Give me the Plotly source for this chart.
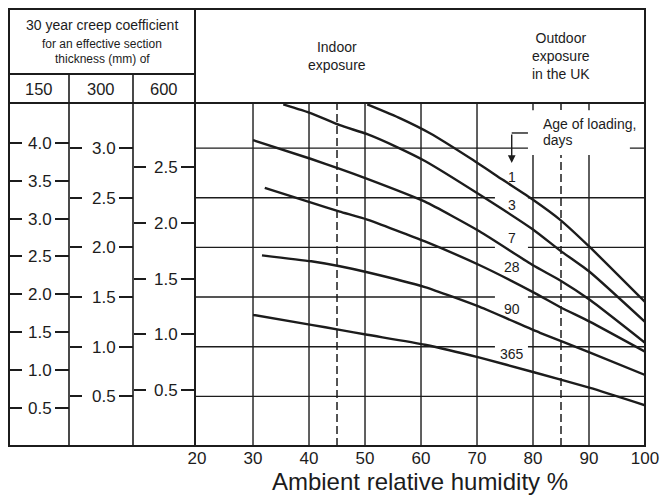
import plotly.graph_objects as go

# ---------------------------------------------------------------------------
# Data: 30-year creep coefficient (read on the 300 mm section scale)
# against ambient relative humidity, one curve per age at loading.
# ---------------------------------------------------------------------------
ages = ["1", "3", "7", "28", "90", "365"]

rh_1 = [50.4, 56.3, 61.6, 69.3, 74.6, 80.0, 84.8, 90.2, 100.0]
phi_1 = [3.44, 3.30, 3.15, 2.88, 2.68, 2.48, 2.28, 2.00, 1.45]

rh_3 = [35.4, 40.4, 45.5, 50.4, 55.7, 60.7, 70.5, 80.0, 84.8, 90.2, 100.0]
phi_3 = [3.44, 3.35, 3.23, 3.14, 3.01, 2.87, 2.53, 2.18, 1.97, 1.75, 1.25]

rh_7 = [30.0, 40.4, 45.5, 50.4, 60.7, 70.5, 80.0, 84.8, 90.2, 100.0]
phi_7 = [3.08, 2.89, 2.79, 2.69, 2.46, 2.16, 1.82, 1.67, 1.47, 1.04]

rh_28 = [32.1, 40.4, 45.5, 50.4, 60.7, 70.5, 80.0, 84.8, 90.2, 100.0]
phi_28 = [2.60, 2.45, 2.36, 2.28, 2.06, 1.82, 1.55, 1.40, 1.25, 0.95]

rh_90 = [31.6, 40.4, 45.5, 50.4, 60.7, 70.5, 81.25, 90.2, 100.0]
phi_90 = [1.92, 1.86, 1.81, 1.75, 1.60, 1.40, 1.14, 0.94, 0.715]

rh_365 = [30.0, 40.4, 45.5, 50.4, 60.7, 70.5, 80.0, 90.2, 100.0]
phi_365 = [1.32, 1.22, 1.17, 1.12, 1.02, 0.89, 0.745, 0.585, 0.41]

curves_rh = [rh_1, rh_3, rh_7, rh_28, rh_90, rh_365]
curves_phi = [phi_1, phi_3, phi_7, phi_28, phi_90, phi_365]

# Creep coefficient on each section scale relative to the 300 mm scale
sections = ["150", "300", "600"]
section_factor = [1.31, 1.00, 0.89]

ticks_150 = [0.5, 1.0, 1.5, 2.0, 2.5, 3.0, 3.5, 4.0]
ticks_300 = [0.5, 1.0, 1.5, 2.0, 2.5, 3.0]
ticks_600 = [0.5, 1.0, 1.5, 2.0, 2.5]
section_ticks = [ticks_150, ticks_300, ticks_600]

humidity_ticks = [20, 30, 40, 50, 60, 70, 80, 90, 100]
exposure_rh = [45, 85]          # indoor / outdoor (UK) reference humidities

# label placement for the age curves
LABEL_RH = 76.2
label_phi = [2.71, 2.43, 2.09, 1.80, 1.38, 0.93]

# ---------------------------------------------------------------------------
# Layout geometry
# ---------------------------------------------------------------------------
W, H = 660, 498
M_L, M_R, M_T, M_B = 9, 15, 9, 52
PW = W - M_L - M_R
PH = H - M_T - M_B

FONT = "Liberation Sans, Arial, Helvetica, sans-serif"
INK = "#1c1c1c"


def fx(px):
    return (px - M_L) / PW


def fy(py):
    return (H - M_B - py) / PH


X_RANGE = [19.64, 100]
Y_TOP = 3.454                       # top of the 300 mm scale
col_edges = [(9, 69), (69, 133), (133, 195)]
PLOT_LEFT = 195
PLOT_TOP = 103
HEAD_SPLIT = 74

fig = go.Figure()

# age curves
for age, rh, phi in zip(ages, curves_rh, curves_phi):
    fig.add_trace(go.Scatter(
        x=rh, y=phi, mode="lines", name=age,
        line=dict(color=INK, width=2.4, shape="spline", smoothing=0.5),
        showlegend=False, hoverinfo="skip"))

layout_axes = {}
axis_no = 2
for sec, factor, tv, (left, right) in zip(sections, section_factor,
                                         section_ticks, col_edges):
    rng = [0, Y_TOP * factor]
    lab_name = f"yaxis{axis_no}"
    tick_name = f"yaxis{axis_no + 1}"
    layout_axes[lab_name] = dict(
        overlaying="y", anchor="free", position=fx(right), side="left",
        range=rng, tickvals=tv, ticktext=[f"{v:.1f}" for v in tv],
        ticks="outside", ticklen=14, tickwidth=1.5, tickcolor=INK,
        tickfont=dict(family=FONT, size=17, color=INK),
        showgrid=False, zeroline=False, showline=False, fixedrange=True)
    layout_axes[tick_name] = dict(
        overlaying="y", anchor="free", position=fx(left), side="right",
        range=rng, tickvals=tv, showticklabels=False,
        ticks="outside", ticklen=12, tickwidth=1.5, tickcolor=INK,
        showgrid=False, zeroline=False, showline=False, fixedrange=True)
    for n in (axis_no, axis_no + 1):
        fig.add_trace(go.Scatter(x=[None], y=[None], yaxis=f"y{n}",
                                 showlegend=False, hoverinfo="skip"))
    axis_no += 2

grid = dict(color=INK, width=1.4)
shapes = []
# chart grid (drawn beneath the curves); the outer values sit on the frame
for rh in humidity_ticks[1:-1]:
    shapes.append(dict(type="line", xref="x", yref="y domain", x0=rh, x1=rh,
                       y0=0, y1=1, layer="below", line=grid))
for phi in ticks_300:
    shapes.append(dict(type="line", xref="x domain", yref="y", x0=0, x1=1,
                       y0=phi, y1=phi, layer="below", line=grid))
# reference humidity lines
for rh in exposure_rh:
    shapes.append(dict(type="line", xref="x", yref="y domain", x0=rh, x1=rh,
                       y0=0, y1=1, layer="below",
                       line=dict(color=INK, width=1.5, dash="8px,4px")))
# white gaps in the grid behind the curve labels and the legend note
shapes.append(dict(type="rect", xref="x", yref="y", x0=73.2, x1=79.1,
                   y0=0.87, y1=2.58, layer="below",
                   fillcolor="white", line=dict(width=0)))
shapes.append(dict(type="rect", xref="x", yref="y", x0=79.1, x1=97.3,
                   y0=2.93, y1=3.38, layer="below",
                   fillcolor="white", line=dict(width=0)))
# bracket of the "Age of loading" pointer
shapes.append(dict(type="line", xref="x", yref="y", x0=LABEL_RH, x1=79.1,
                   y0=3.152, y1=3.152, line=dict(color=INK, width=1.4)))

# table frame
frame = dict(color=INK, width=2)
shapes += [
    dict(type="rect", xref="paper", yref="paper", x0=0, x1=1, y0=0, y1=1,
         line=frame),
    dict(type="line", xref="paper", yref="paper", x0=fx(PLOT_LEFT),
         x1=fx(PLOT_LEFT), y0=0, y1=1, line=frame),
    dict(type="line", xref="paper", yref="paper", x0=0, x1=1,
         y0=fy(PLOT_TOP), y1=fy(PLOT_TOP), line=frame),
    dict(type="line", xref="paper", yref="paper", x0=0, x1=fx(PLOT_LEFT),
         y0=fy(HEAD_SPLIT), y1=fy(HEAD_SPLIT), line=frame),
]
for left, right in col_edges[1:]:
    shapes.append(dict(type="line", xref="paper", yref="paper",
                       x0=fx(left), x1=fx(left), y0=0, y1=fy(HEAD_SPLIT),
                       line=dict(color=INK, width=1.6)))

ann = []


def txt(text, x, y, size, xref="paper", yref="paper", xanchor="center"):
    ann.append(dict(text=text, x=x, y=y, xref=xref, yref=yref,
                    xanchor=xanchor, yanchor="middle", showarrow=False,
                    font=dict(family=FONT, size=size, color=INK)))


head_mid = (col_edges[0][0] + col_edges[-1][1]) / 2
txt("30 year creep coefficient", fx(head_mid), fy(25), 14)
txt("for an effective section", fx(head_mid), fy(44), 12)
txt("thickness (mm) of", fx(head_mid), fy(59), 12)
for sec, (left, right) in zip(sections, col_edges):
    txt(sec, fx((left + right) / 2), fy(88.5), 16.5)

txt("Indoor<br>exposure", exposure_rh[0], fy(56), 14, xref="x")
txt("Outdoor<br>exposure<br>in the UK", exposure_rh[1], fy(56), 14, xref="x")

txt("Age of loading,", 81.5, 3.243, 14, xref="x", yref="y", xanchor="left")
txt("days", 81.5, 3.085, 14, xref="x", yref="y", xanchor="left")
ann.append(dict(text="", x=LABEL_RH, y=2.85, xref="x", yref="y",
                ax=0, ay=-30, showarrow=True, arrowhead=2, arrowsize=1.1,
                arrowwidth=1.4, arrowcolor=INK, standoff=0))

for age, phi in zip(ages, label_phi):
    txt(age, LABEL_RH, phi, 14, xref="x", yref="y")

fig.update_layout(
    width=W, height=H,
    margin=dict(l=M_L, r=M_R, t=M_T, b=M_B, pad=0),
    paper_bgcolor="white", plot_bgcolor="white",
    font=dict(family=FONT, color=INK),
    xaxis=dict(domain=[fx(PLOT_LEFT), 1], range=X_RANGE,
               tickvals=humidity_ticks, ticks="", showline=False,
               showgrid=False, zeroline=False,
               tickfont=dict(family=FONT, size=17, color=INK),
               title=dict(text="Ambient relative humidity %",
                          font=dict(family=FONT, size=24, color=INK),
                          standoff=2),
               automargin=False, fixedrange=True),
    yaxis=dict(domain=[0, fy(PLOT_TOP)], range=[0, Y_TOP],
               tickvals=ticks_300, showticklabels=False, ticks="",
               showgrid=False, zeroline=False,
               showline=False, automargin=False, fixedrange=True),
    shapes=shapes, annotations=ann,
    **layout_axes,
)

fig.write_html("out.html")
